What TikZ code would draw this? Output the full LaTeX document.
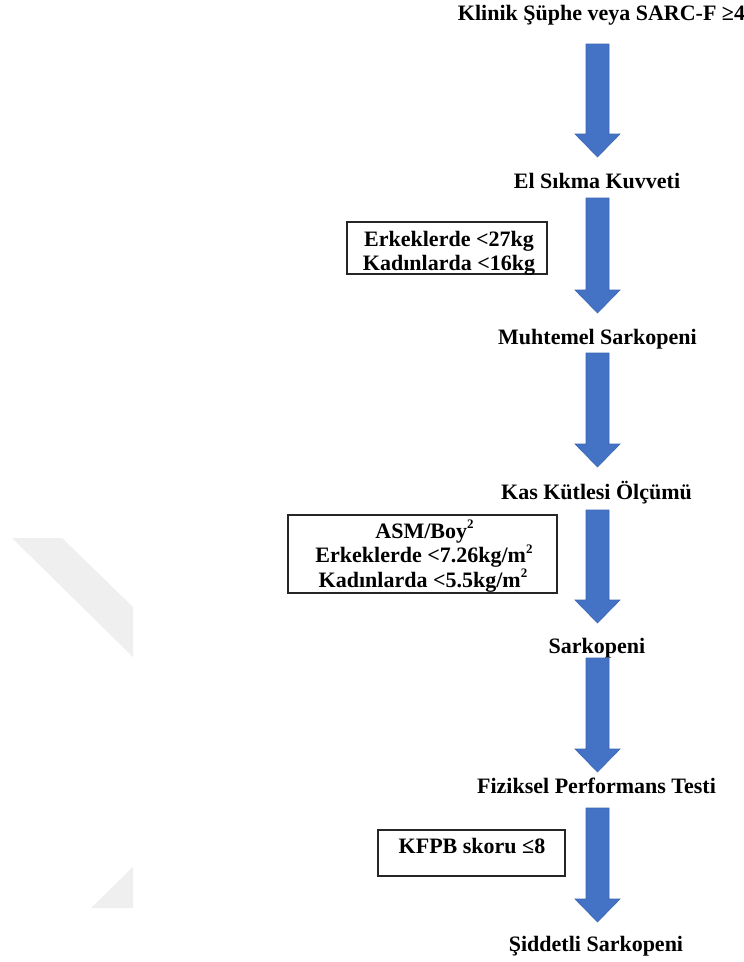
\documentclass[tikz,border=0pt]{standalone}
\usepackage{fontspec}
\setmainfont{Liberation Serif}
\usetikzlibrary{calc}
\definecolor{arrowblue}{HTML}{4472C4}
\definecolor{arrowedge}{HTML}{3B66B5}
\definecolor{wmgray}{HTML}{EFEFEF}
\tikzset{
  stage/.style={font=\fontsize{22}{24}\selectfont\bfseries, inner sep=0pt, anchor=base},
  boxline/.style={font=\fontsize{22}{24}\selectfont\bfseries, inner sep=0pt, anchor=base},
  critbox/.style={draw=black!85, line width=1.2pt, fill=none, inner sep=0pt},
  blockarrow/.style={fill=arrowblue, draw=arrowedge, line width=0.6pt, line join=miter},
  watermark/.style={fill=wmgray, draw=none}
}
\newcommand{\bigdownarrow}[2]{%
  \path[blockarrow] ($(#1)+(-11.5,0)$) -- ($(#1)+(11.5,0)$) -- ($(#2)+(11.5,-23)$)
    -- ($(#2)+(22.5,-23)$) -- (#2) -- ($(#2)+(-22.5,-23)$) -- ($(#2)+(-11.5,-23)$) -- cycle;}
\newcommand{\sqsup}{\raisebox{0.42em}{\fontsize{13}{13}\selectfont 2}}
\begin{document}
\begin{tikzpicture}[x=1pt,y=-1pt]
\useasboundingbox[fill=white] (0,0) rectangle (744,962);
% watermark shapes
\path[watermark] (12,538) -- (62,538) -- (133,607) -- (133,657) -- cycle;
\path[watermark] (133,867) -- (133,908) -- (91,908) -- cycle;
% stages
\node[stage] (s1) at (601.5,20) {Klinik Şüphe veya SARC-F ≥4};
\node[stage] (s2) at (597,188) {El Sıkma Kuvveti};
\node[stage] (s3) at (597.5,344) {Muhtemel Sarkopeni};
\node[stage] (s4) at (596.5,499) {Kas Kütlesi Ölçümü};
\node[stage] (s5) at (597,653) {Sarkopeni};
\node[stage] (s6) at (596.5,793) {Fiziksel Performans Testi};
\node[stage] (s7) at (596,951) {Şiddetli Sarkopeni};
% criteria boxes
\node[critbox, minimum width=200pt, minimum height=52pt] (b1) at (447,248) {};
\node[boxline] (b1a) at (449,246) {Erkeklerde <27kg};
\node[boxline] (b1b) at (449,270) {Kadınlarda <16kg};
\node[critbox, minimum width=269pt, minimum height=78pt] (b2) at (422.5,554) {};
\node[boxline] (b2a) at (424.5,538) {ASM/Boy\sqsup};
\node[boxline] (b2b) at (424,562.5) {Erkeklerde <7.26kg/m\sqsup};
\node[boxline] (b2c) at (423,587) {Kadınlarda <5.5kg/m\sqsup};
\node[critbox, minimum width=187pt, minimum height=46pt] (b3) at (471.5,853) {};
\node[boxline] (b3a) at (472,853) {KFPB skoru ≤8};
% arrow end points
\coordinate (a1s) at (597.5,44);  \coordinate (a1e) at (597.5,157);
\coordinate (a2s) at (597.5,198); \coordinate (a2e) at (597.5,313);
\coordinate (a3s) at (597.5,353); \coordinate (a3e) at (597.5,467);
\coordinate (a4s) at (597.5,510); \coordinate (a4e) at (597.5,623);
\coordinate (a5s) at (597.5,658); \coordinate (a5e) at (597.5,772);
\coordinate (a6s) at (597.5,808); \coordinate (a6e) at (597.5,922);
\bigdownarrow{a1s}{a1e}
\bigdownarrow{a2s}{a2e}
\bigdownarrow{a3s}{a3e}
\bigdownarrow{a4s}{a4e}
\bigdownarrow{a5s}{a5e}
\bigdownarrow{a6s}{a6e}
\end{tikzpicture}
\end{document}
